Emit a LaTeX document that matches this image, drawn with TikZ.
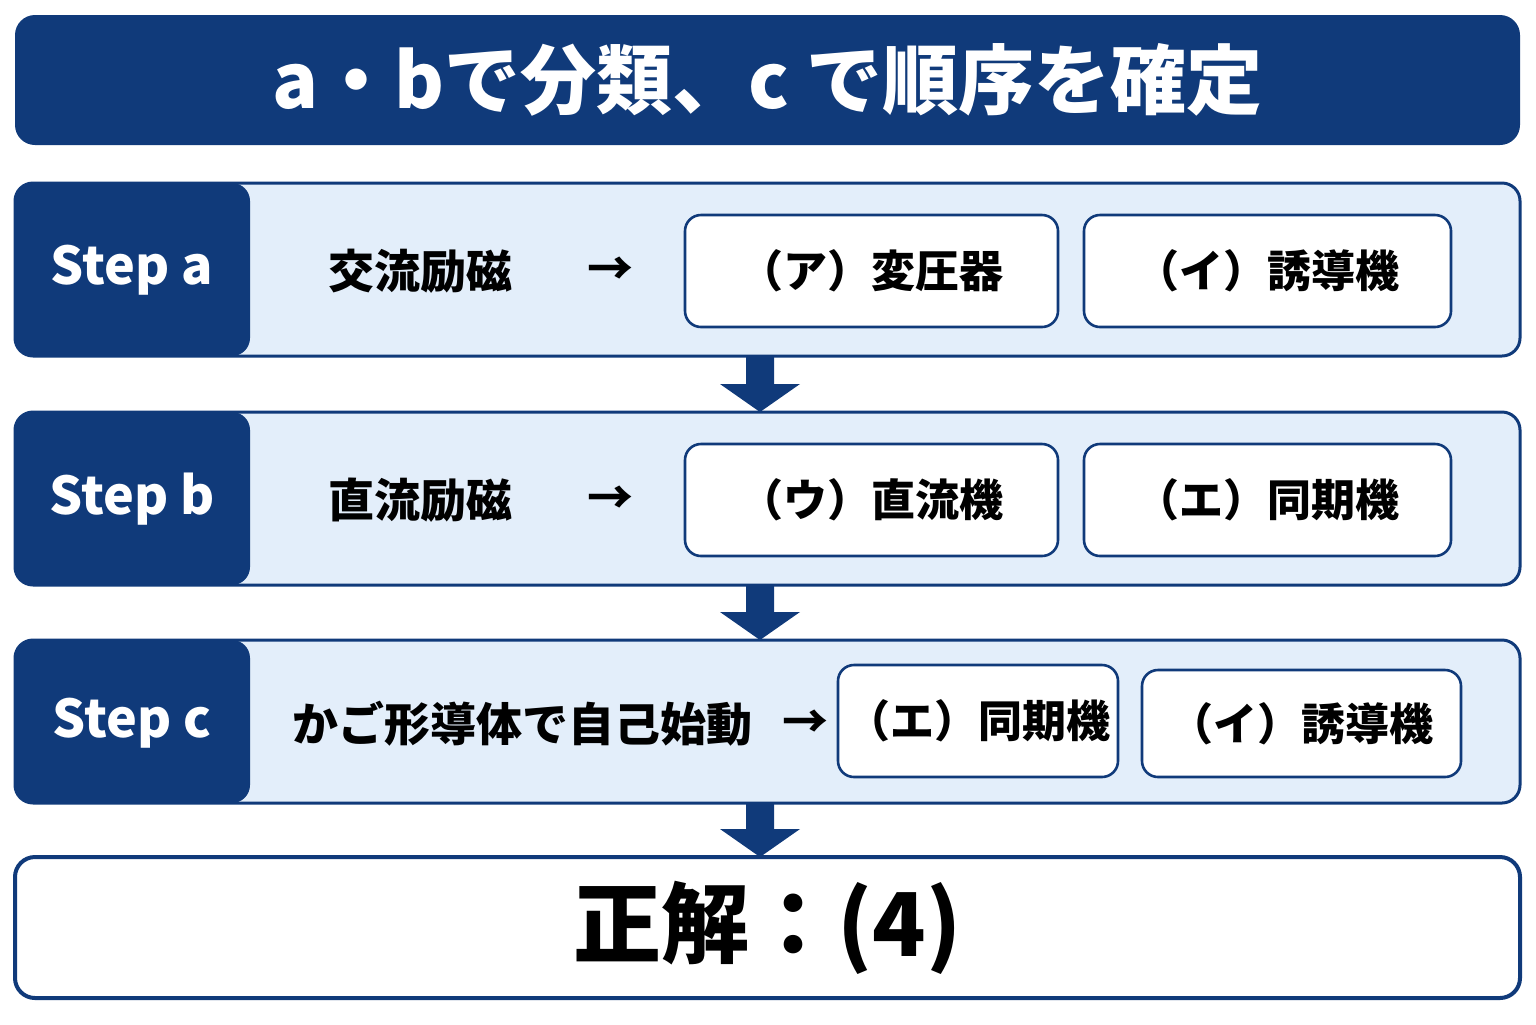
\documentclass[tikz,border=0pt]{standalone}
\usepackage{fontspec}
\setmainfont{Noto Sans CJK JP}
\usepackage{tikz}
\usetikzlibrary{calc}
\definecolor{dkblue}{RGB}{16,58,122}
\definecolor{ltblue}{RGB}{227,238,250}
\tikzset{
  rowbox/.style={draw=dkblue,line width=1.5pt,fill=ltblue,rounded corners=9pt,minimum width=752.5pt,minimum height=86.5pt,inner sep=0pt},
  stepbox/.style={inner sep=0pt,text=white,font=\bfseries\fontsize{26}{30}\selectfont},
  itembox/.style={draw=dkblue,line width=1.3pt,fill=white,rounded corners=8pt,inner sep=0pt,font=\bfseries\fontsize{22}{26}\selectfont},
  rowtext/.style={font=\bfseries\fontsize{23}{26}\selectfont,inner sep=0.75pt},
  downarrow/.style={fill=dkblue}
}
\newcommand{\downarr}[2]{%
  \fill[downarrow] ($(#1)+(-14,0)$) -- ($(#1)+(14,0)$) -- ($(#2)+(14,-28)$) -- ($(#2)+(40,-28)$) -- (#2) -- ($(#2)+(-40,-28)$) -- ($(#2)+(-14,-28)$) -- cycle;}
\begin{document}
\begin{tikzpicture}[x=0.5pt,y=0.5pt,yscale=-1]
\useasboundingbox (0,0) rectangle (1536,1024);

% title
\node (title) [fill=dkblue,rounded corners=10pt,minimum width=752.5pt,minimum height=65pt,text=white,font=\bfseries\fontsize{38}{42}\selectfont] at (767.5,80) {a・bで分類、c で順序を確定};

% rows
\node (ra) [rowbox] at (767.5,269.5) {};
\node (rb) [rowbox] at (767.5,498.5) {};
\node (rc) [rowbox,minimum height=81.5pt] at (767.5,721.5) {};

% step labels
\fill[dkblue,rounded corners=9pt] (15,183) rectangle (250,356);
\fill[dkblue,rounded corners=9pt] (15,412) rectangle (250,585);
\fill[dkblue,rounded corners=9pt] (15,640) rectangle (250,803);
\node (sa) [stepbox] at (132,270) {Step a};
\node (sb) [stepbox] at (132,499) {Step b};
\node (sc) [stepbox] at (132,723) {Step c};

% row a
\node (ta) [rowtext] at (420,271) {交流励磁};
\node (aa) [rowtext] at (610,271) {→};
\node (a1) [itembox,minimum width=186.5pt,minimum height=56pt] at (871.5,271) {（ア）変圧器};
\node (a2) [itembox,minimum width=183.5pt,minimum height=56pt] at (1267.5,271) {（イ）誘導機};

% row b
\node (tb) [rowtext] at (420,500) {直流励磁};
\node (ab) [rowtext] at (610,500) {→};
\node (b1) [itembox,minimum width=186.5pt,minimum height=56pt] at (871.5,500) {（ウ）直流機};
\node (b2) [itembox,minimum width=183.5pt,minimum height=56pt] at (1267.5,500) {（エ）同期機};

% row c
\node (tc) [rowtext] at (522,724) {かご形導体で自己始動};
\node (ac) [rowtext] at (805,724) {→};
\node (c1) [itembox,minimum width=140pt,minimum height=56pt] at (978,721) {（エ）同期機};
\node (c2) [itembox,minimum width=159.5pt,minimum height=53.5pt] at (1301.5,723.5) {（イ）誘導機};

% answer
\node (ans) [draw=dkblue,line width=2pt,fill=white,rounded corners=10pt,minimum width=752.5pt,minimum height=70.5pt,font=\bfseries\fontsize{44}{48}\selectfont] at (767.5,927.5) {正解：(4)};

% down arrows
\coordinate (da) at (760,356);
\coordinate (db) at (760,412);
\coordinate (dc) at (760,585);
\coordinate (dd) at (760,640);
\coordinate (de) at (760,803);
\coordinate (df) at (760,857);
\downarr{da}{db}
\downarr{dc}{dd}
\downarr{de}{df}
\end{tikzpicture}
\end{document}
